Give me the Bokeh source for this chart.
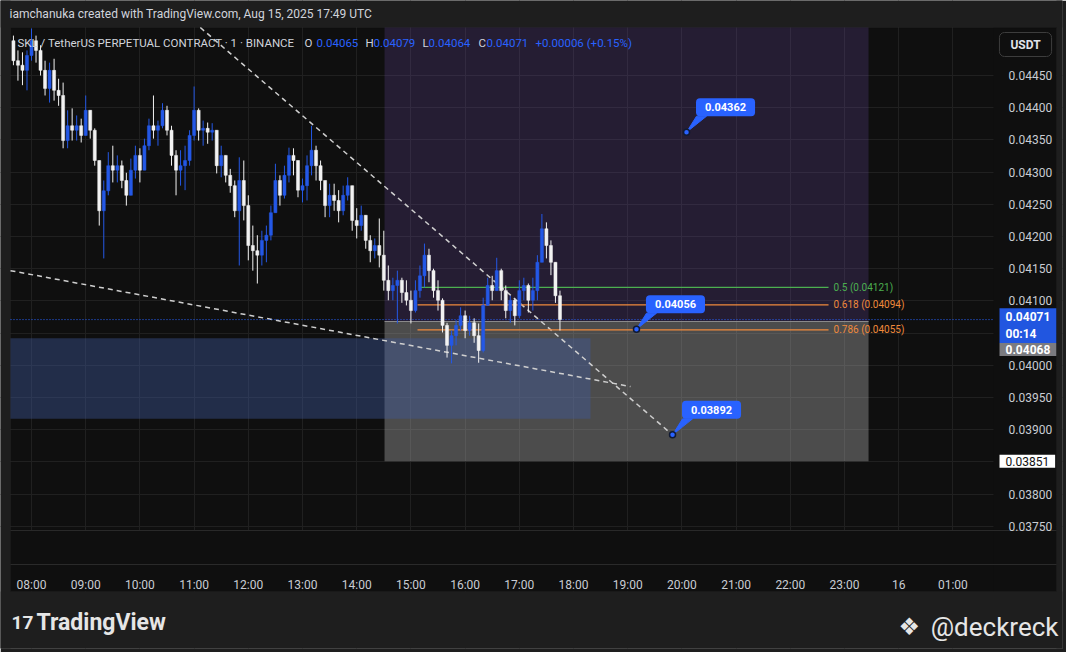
from bokeh.plotting import figure
from bokeh.models import (Range1d, FixedTicker, NumeralTickFormatter, Label,
                          BoxAnnotation, ColumnDataSource)
from bokeh.embed import file_html
from bokeh.resources import INLINE

# ---------------- data ----------------
# 5-minute bars, minutes after 08:00 (Aug 15, 2025)
bar_minutes = list(range(-20, 590, 5))
opens = [0.04504,0.04473,0.04466,0.04458,0.04481,0.04504,0.04489,0.04458,0.04430,0.04458,
         0.04427,0.04419,0.04349,0.04372,0.04365,0.04372,0.04357,0.04396,0.04365,0.04318,
         0.04240,0.04271,0.04310,0.04303,0.04310,0.04287,0.04264,0.04303,0.04326,0.04303,
         0.04341,0.04372,0.04365,0.04372,0.04396,0.04365,0.04326,0.04303,0.04310,0.04318,
         0.04357,0.04396,0.04365,0.04368,0.04362,0.04365,0.04310,0.04326,0.04295,0.04279,
         0.04240,0.04287,0.04248,0.04186,0.04178,0.04171,0.04194,0.04202,0.04237,0.04287,
         0.04264,0.04295,0.04326,0.04318,0.04272,0.04279,0.04310,0.04334,0.04310,0.04287,
         0.04248,0.04264,0.04256,0.04240,0.04264,0.04279,0.04225,0.04217,0.04233,0.04194,
         0.04178,0.04186,0.04171,0.04132,0.04116,0.04124,0.04132,0.04113,0.04101,0.04085,
         0.04116,0.04139,0.04171,0.04147,0.04116,0.04101,0.04062,0.04031,0.04046,0.04062,
         0.04077,0.04054,0.04066,0.04046,0.04023,0.04093,0.04124,0.04116,0.04147,0.04116,
         0.04085,0.04101,0.04077,0.04116,0.04124,0.04101,0.04116,0.04160,0.04212,0.04186,
         0.04160,0.04108]
highs = [0.04512,0.04489,0.04486,0.04489,0.04523,0.04512,0.04497,0.04473,0.04470,0.04476,
         0.04445,0.04439,0.04396,0.04399,0.04388,0.04383,0.04419,0.04396,0.04368,0.04318,
         0.04287,0.04331,0.04341,0.04326,0.04318,0.04299,0.04321,0.04341,0.04337,0.04352,
         0.04383,0.04419,0.04380,0.04407,0.04403,0.04372,0.04334,0.04334,0.04341,0.04365,
         0.04433,0.04399,0.04380,0.04377,0.04376,0.04365,0.04341,0.04326,0.04305,0.04287,
         0.04323,0.04318,0.04264,0.04217,0.04202,0.04209,0.04217,0.04248,0.04313,0.04295,
         0.04310,0.04338,0.04337,0.04318,0.04290,0.04326,0.04372,0.04341,0.04318,0.04287,
         0.04282,0.04282,0.04272,0.04279,0.04292,0.04279,0.04244,0.04248,0.04233,0.04202,
         0.04197,0.04228,0.04209,0.04155,0.04136,0.04147,0.04136,0.04132,0.04116,0.04132,
         0.04155,0.04189,0.04181,0.04150,0.04132,0.04104,0.04066,0.04054,0.04070,0.04090,
         0.04085,0.04077,0.04073,0.04065,0.04105,0.04136,0.04139,0.04167,0.04150,0.04124,
         0.04108,0.04104,0.04132,0.04136,0.04127,0.04136,0.04171,0.04235,0.04222,0.04194,
         0.04160,0.04116]
lows = [0.04466,0.04442,0.04435,0.04427,0.04473,0.04470,0.04450,0.04419,0.04408,0.04411,
        0.04403,0.04337,0.04337,0.04349,0.04349,0.04346,0.04357,0.04352,0.04310,0.04217,
        0.04166,0.04264,0.04284,0.04284,0.04275,0.04248,0.04264,0.04290,0.04284,0.04303,
        0.04334,0.04352,0.04341,0.04368,0.04357,0.04310,0.04264,0.04279,0.04272,0.04310,
        0.04349,0.04349,0.04341,0.04344,0.04349,0.04298,0.04292,0.04284,0.04268,0.04230,
        0.04155,0.04225,0.04163,0.04147,0.04127,0.04155,0.04160,0.04194,0.04237,0.04248,
        0.04259,0.04284,0.04295,0.04261,0.04253,0.04256,0.04295,0.04287,0.04272,0.04230,
        0.04230,0.04240,0.04222,0.04233,0.04256,0.04209,0.04197,0.04209,0.04181,0.04160,
        0.04166,0.04152,0.04116,0.04101,0.04101,0.04065,0.04097,0.04093,0.04065,0.04082,
        0.04105,0.04121,0.04129,0.04105,0.04085,0.04051,0.04012,0.04003,0.04031,0.04054,
        0.04042,0.04046,0.04035,0.04004,0.04020,0.04093,0.04101,0.04116,0.04101,0.04073,
        0.04066,0.04062,0.04073,0.04101,0.04082,0.04085,0.04101,0.04160,0.04166,0.04140,
        0.04097,0.04054]
closes = [0.04473,0.04466,0.04458,0.04481,0.04504,0.04489,0.04458,0.04430,0.04458,0.04427,
          0.04419,0.04349,0.04372,0.04365,0.04372,0.04357,0.04396,0.04365,0.04318,0.04240,
          0.04271,0.04310,0.04303,0.04310,0.04287,0.04264,0.04303,0.04326,0.04303,0.04341,
          0.04372,0.04365,0.04372,0.04396,0.04365,0.04326,0.04303,0.04310,0.04318,0.04357,
          0.04396,0.04365,0.04368,0.04362,0.04365,0.04310,0.04326,0.04295,0.04279,0.04240,
          0.04287,0.04248,0.04186,0.04178,0.04171,0.04194,0.04202,0.04237,0.04287,0.04264,
          0.04295,0.04326,0.04318,0.04272,0.04279,0.04310,0.04334,0.04310,0.04287,0.04248,
          0.04264,0.04256,0.04240,0.04264,0.04279,0.04225,0.04217,0.04233,0.04194,0.04178,
          0.04186,0.04171,0.04132,0.04116,0.04124,0.04132,0.04113,0.04101,0.04085,0.04116,
          0.04139,0.04171,0.04147,0.04116,0.04101,0.04062,0.04031,0.04046,0.04062,0.04077,
          0.04054,0.04066,0.04046,0.04023,0.04093,0.04124,0.04116,0.04147,0.04116,0.04085,
          0.04101,0.04077,0.04116,0.04124,0.04101,0.04116,0.04160,0.04212,0.04186,0.04160,
          0.04108,0.04071]

hour_ticks = [0, 60, 120, 180, 240, 300, 360, 420, 480, 540, 600, 660, 720, 780, 840, 900, 960, 1020]
hour_labels = ["08:00", "09:00", "10:00", "11:00", "12:00", "13:00", "14:00", "15:00", "16:00",
               "17:00", "18:00", "19:00", "20:00", "21:00", "22:00", "23:00", "16", "01:00"]
price_ticks = [0.03750, 0.03800, 0.03850, 0.03900, 0.03950, 0.04000, 0.04050, 0.04100,
               0.04150, 0.04200, 0.04250, 0.04300, 0.04350, 0.04400, 0.04450]

# visible pane (minutes after 08:00 / price)
pane_left, pane_right = -23.25, 1064.9
pane_top = 0.045245
pane_sep = 0.037435

# long-position tool (target lies above the visible pane)
pos_start, pos_end = 390.8, 926.6
pos_entry, pos_stop, pos_target = 0.04068, 0.03851, pane_top
# blue demand zone
zone_left, zone_right = pane_left, 618.8
zone_bottom, zone_top = 0.03917, 0.04042
# dashed trend lines: start (t, p) -> end (t, p)
trend_x0 = [186.9, pane_left]
trend_y0 = [pane_top, 0.04147]
trend_x1 = [709.6, 663.1]
trend_y1 = [0.03892, 0.03967]
# fib retracement levels
fib_levels = ["0.5", "0.618", "0.786"]
fib_prices = [0.04121, 0.04094, 0.04055]
fib_start = [430.6, 427.3, 427.3]
fib_end = 882.3
fib_colors = ["#4caf50", "#f08a3c", "#f08a3c"]
# price notes
note_times = [725.1, 669.7, 709.6]
note_prices = [0.04362, 0.04056, 0.03892]

last_close = 0.04071
countdown = "00:14"

# ---------------- layout ----------------
FIG_W, FIG_H = 1066, 652
BR, BB = 4, 4
FRAME_W, FRAME_H = FIG_W - BR, FIG_H - BB
X_START, X_END = -34.32, 1141.3
Y_START, Y_END = 0.0356025, 0.045665
PX_X = (X_END - X_START) / FRAME_W
PX_Y = (Y_END - Y_START) / FRAME_H


def t_at(px):
    return X_START + px * PX_X


def p_at(py):
    return Y_END - py * PX_Y


UI_FONT = "Roboto"
TXT = "#d1d4dc"
BLUE = "#2962ff"
PANE_BG = "#0f0f0f"
OUTER_BG = "#1e1e1e"

p = figure(width=FIG_W, height=FIG_H,
           x_range=Range1d(X_START, X_END), y_range=Range1d(Y_START, Y_END),
           output_backend="svg", toolbar_location=None, y_axis_location="right",
           min_border_left=0, min_border_right=BR, min_border_top=0, min_border_bottom=BB,
           background_fill_color=PANE_BG, border_fill_color=OUTER_BG,
           outline_line_color=None)

p.xaxis.ticker = FixedTicker(ticks=hour_ticks)
p.xaxis.major_label_overrides = {t: lab for t, lab in zip(hour_ticks, hour_labels)}
p.yaxis.ticker = FixedTicker(ticks=price_ticks)
p.yaxis.formatter = NumeralTickFormatter(format="0.00000")
for ax in (p.xaxis[0], p.yaxis[0]):
    ax.major_tick_line_color = None
    ax.minor_tick_line_color = None
    ax.axis_line_color = None
    ax.major_label_text_font = UI_FONT
    ax.major_label_text_font_size = "12px"
    ax.major_label_text_color = "#c9ccd3"
p.xaxis.major_label_standoff = -77
p.yaxis.major_label_standoff = -60
p.xgrid.grid_line_color = "#202020"
p.ygrid.grid_line_color = "#202020"

# chrome: cover the grid outside the main pane
covers = [
    (None, None, p_at(27), None, OUTER_BG),          # header strip
    (None, None, None, p_at(591), OUTER_BG),         # footer strip
    (None, t_at(10), None, None, OUTER_BG),          # left strip
    (t_at(1056), None, None, None, OUTER_BG),        # right strip
    (pane_right, t_at(1056), p_at(591), pane_top, PANE_BG),   # price scale column
    (pane_left, pane_right, p_at(591), pane_sep, PANE_BG),    # lower pane + time scale
]
for left, right, bottom, top, col in covers:
    kw = {}
    if left is not None: kw["left"] = left
    if right is not None: kw["right"] = right
    if bottom is not None: kw["bottom"] = bottom
    if top is not None: kw["top"] = top
    p.add_layout(BoxAnnotation(fill_color=col, fill_alpha=1.0, line_color=None,
                               level="underlay", **kw))
p.add_layout(BoxAnnotation(left=t_at(10), right=t_at(1056), bottom=p_at(591), top=pane_top,
                           fill_color=None, line_color="#2a2a2a", line_width=1,
                           level="underlay"))
p.segment(x0=[t_at(10)] * 2, x1=[t_at(1056)] * 2, y0=[pane_sep, p_at(564)],
          y1=[pane_sep, p_at(564)], line_color="#2a2a2a", line_width=1)

# position tool
p.quad(left=[pos_start], right=[pos_end], bottom=[pos_entry], top=[pos_target],
       fill_color="#7e57c2", fill_alpha=0.2, line_color=None)
p.quad(left=[pos_start], right=[pos_end], bottom=[pos_stop], top=[pos_entry],
       fill_color="#c0c0c0", fill_alpha=0.35, line_color=None)
p.segment(x0=[pos_start], y0=[pos_entry], x1=[pos_end], y1=[pos_entry],
          line_color="#8c8c8c", line_width=1)
# demand zone
p.quad(left=[zone_left], right=[zone_right], bottom=[zone_bottom], top=[zone_top],
       fill_color="#3e589b", fill_alpha=0.42, line_color=None)

# trend lines
p.segment(x0=trend_x0, y0=trend_y0, x1=trend_x1, y1=trend_y1,
          line_color="#cfcfcf", line_width=1.5, line_dash="5 4")

# fib
p.segment(x0=fib_start, y0=fib_prices, x1=[fib_end] * 3, y1=fib_prices,
          line_color=fib_colors, line_width=1.2)
for lvl, pr, col in zip(fib_levels, fib_prices, fib_colors):
    p.add_layout(Label(x=fib_end, y=pr, x_offset=5, text=f"{lvl} ({pr:.5f})",
                       text_font=UI_FONT, text_font_size="10px", text_color=col,
                       text_baseline="middle"))

# current price line
p.segment(x0=[pane_left], x1=[pane_right], y0=[last_close], y1=[last_close],
          line_color=BLUE, line_dash="1 2", line_width=1)

# candles
up_col, down_col = "#2458e6", "#f2f2f2"
colors = [up_col if c > o else down_col for o, c in zip(opens, closes)]
src = ColumnDataSource(dict(x=bar_minutes, o=opens, h=highs, l=lows, c=closes,
                            top=[max(o, c) for o, c in zip(opens, closes)],
                            bot=[min(o, c) for o, c in zip(opens, closes)],
                            col=colors))
p.segment(x0="x", y0="h", x1="x", y1="l", line_color="col", line_width=1, source=src)
p.vbar(x="x", width=3.4, top="top", bottom="bot", fill_color="col", line_color="col",
       line_width=0.5, source=src)

# price notes
for t, pr in zip(note_times, note_prices):
    p.patch(x=[t, t + 10 * PX_X, t + 20 * PX_X], y=[pr, pr + 16 * PX_Y, pr + 16 * PX_Y],
            fill_color=BLUE, line_color=BLUE, line_width=1)
    p.add_layout(Label(x=t, y=pr, x_offset=39, y_offset=25, text=f"{pr:.5f}",
                       text_align="center", text_baseline="middle",
                       text_font=UI_FONT, text_font_size="11px", text_font_style="bold",
                       text_color="white", background_fill_color=BLUE,
                       border_radius=4,
                       padding=dict(left=9, right=9, top=5, bottom=5)))
p.scatter(x=note_times, y=note_prices, size=6, fill_color=BLUE, line_color="#101a33",
          line_width=1.5)

# price-scale tags
tag_x = t_at(999)
p.add_layout(Label(x=tag_x, y=last_close, y_offset=-6,
                   text=f"{last_close:.5f}\n{countdown}", text_align="left",
                   text_baseline="middle", text_font=UI_FONT, text_font_size="12px",
                   text_font_style="bold", text_color="white",
                   background_fill_color="#2156e0",
                   padding=dict(left=6, right=6, top=2, bottom=2)))
p.add_layout(Label(x=tag_x, y=pos_entry, y_offset=-28,
                   text=f"{pos_entry:.5f}", text_align="left", text_baseline="middle",
                   text_font=UI_FONT, text_font_size="12px", text_font_style="bold",
                   text_color="white", background_fill_color="#7b7b80",
                   padding=dict(left=6, right=6, top=2, bottom=2)))
p.add_layout(Label(x=tag_x, y=pos_stop,
                   text=f"{pos_stop:.5f}", text_align="left", text_baseline="middle",
                   text_font=UI_FONT, text_font_size="12px",
                   text_color="#111111", background_fill_color="#ffffff",
                   padding=dict(left=6, right=6, top=2, bottom=2)))
p.add_layout(Label(x=t_at(1025), y=p_at(44), text="USDT",
                   text_align="center", text_baseline="middle", text_font=UI_FONT,
                   text_font_size="12px", text_font_style="bold", text_color="#e0e3eb",
                   background_fill_color=PANE_BG, border_line_color="#3d3d3d",
                   border_radius=5, padding=dict(left=11, right=11, top=5, bottom=5)))

# header
p.add_layout(Label(x=t_at(9), y=p_at(13),
                   text="iamchanuka created with TradingView.com, Aug 15, 2025 17:49 UTC",
                   text_baseline="middle", text_font=UI_FONT, text_font_size="12px",
                   text_color=TXT))
header_parts = [("SKL / TetherUS PERPETUAL CONTRACT · 1 · BINANCE", 17, TXT),
                ("O", 304, TXT), ("0.04065", 316, BLUE),
                ("H", 365, TXT), ("0.04079", 373, BLUE),
                ("L", 422, TXT), ("0.04064", 428, BLUE),
                ("C", 478, TXT), ("0.04071", 486, BLUE),
                ("+0.00006 (+0.15%)", 535, BLUE)]
for txt, px, col in header_parts:
    p.add_layout(Label(x=t_at(px), y=p_at(42), text=txt,
                       text_baseline="middle", text_font=UI_FONT, text_font_size="11.5px",
                       text_color=col))

# footer
p.add_layout(Label(x=t_at(11), y=p_at(622), text="17",
                   text_baseline="middle", text_font=UI_FONT, text_font_size="19px",
                   text_font_style="bold", text_color="#e6e6e6"))
p.add_layout(Label(x=t_at(36), y=p_at(622), text="TradingView",
                   text_baseline="middle", text_font=UI_FONT, text_font_size="23px",
                   text_font_style="bold", text_color="#e6e6e6"))
p.add_layout(Label(x=t_at(898), y=p_at(626), text="❖",
                   text_baseline="middle", text_font="DejaVu Sans", text_font_size="24px",
                   text_color="#e6e6e6"))
p.add_layout(Label(x=t_at(1058), y=p_at(626), text="@deckreck",
                   text_align="right", text_baseline="middle", text_font=UI_FONT,
                   text_font_size="26px", text_color="#e6e6e6"))

open("out.html", "w").write(file_html(p, INLINE))
